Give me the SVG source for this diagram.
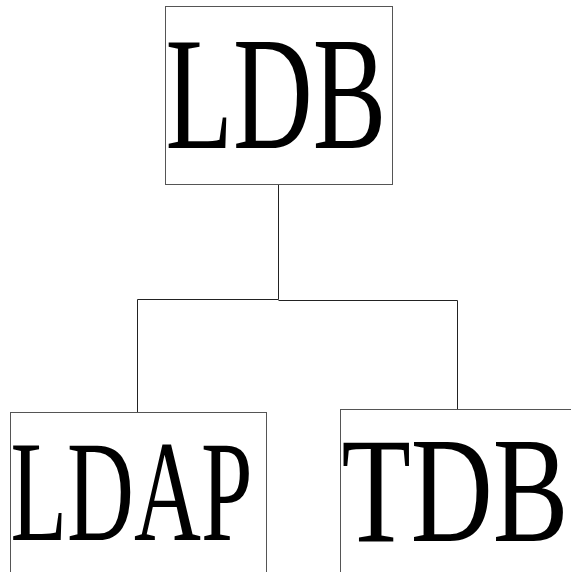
<svg xmlns="http://www.w3.org/2000/svg" width="571" height="572" viewBox="0 0 571 572">
<style>
.box{fill:#fff;stroke:#555;stroke-width:1}
.lbl{font-family:'Liberation Serif','Times New Roman',serif;fill:#000}
.conn{fill:none;stroke:#222;stroke-width:1}
</style>
<rect width="571" height="572" fill="#fff"/>
<g id="connectors">
<polyline class="conn" points="278.5,185 278.5,299.5 137.5,299.5 137.5,413"/>
<polyline class="conn" points="278.5,300.5 457.5,300.5 457.5,410"/>
</g>
<g id="node-ldb">
<rect class="box" x="165.5" y="6.5" width="227" height="178"/>
<text class="lbl" transform="translate(165.5,148) scale(0.69,1)" font-size="160">LDB</text>
</g>
<g id="node-ldap">
<rect class="box" x="10.5" y="412.5" width="256" height="200"/>
<text class="lbl" transform="translate(10.5,540) scale(0.639,1)" font-size="145">LDAP</text>
</g>
<g id="node-tdb">
<rect class="box" x="340.5" y="409.5" width="260" height="200"/>
<text class="lbl" transform="translate(341.5,541) scale(0.757,1)" font-size="150">TDB</text>
</g>
</svg>
